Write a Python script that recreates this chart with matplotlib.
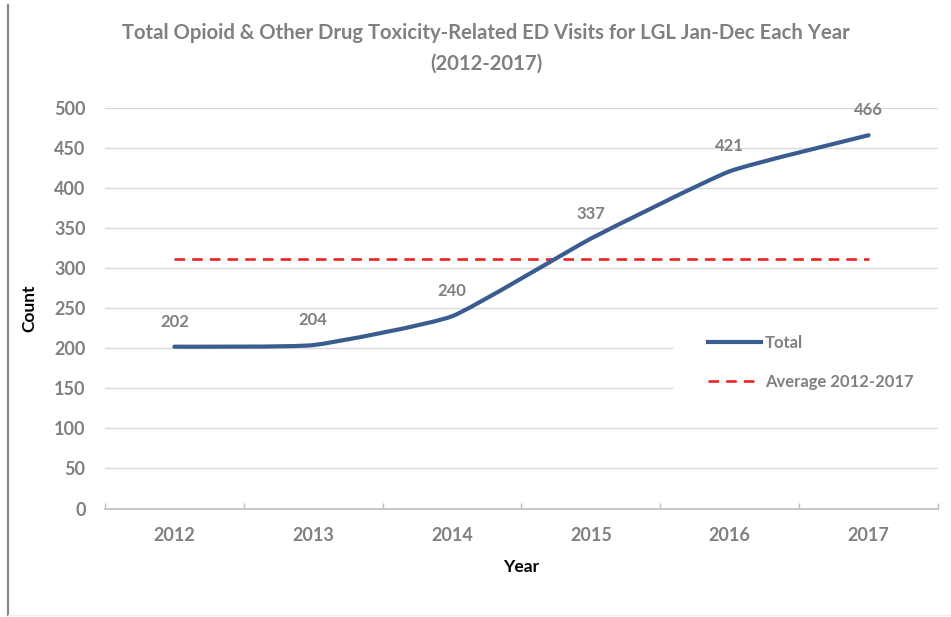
import matplotlib
matplotlib.use("Agg")
import matplotlib.pyplot as plt
from matplotlib.path import Path
from matplotlib.patches import PathPatch, Rectangle
from matplotlib.lines import Line2D
import numpy as np

years = ["2012", "2013", "2014", "2015", "2016", "2017"]
totals = [202, 204, 240, 337, 421, 466]
average = [311.67, 311.67, 311.67, 311.67, 311.67, 311.67]
yticks = [0, 50, 100, 150, 200, 250, 300, 350, 400, 450, 500]
title = "Total Opioid & Other Drug Toxicity-Related ED Visits for LGL Jan-Dec Each Year\n(2012-2017)"

plt.rcParams['font.family'] = ['Lato', 'DejaVu Sans']

W, H = 951, 617
fig = plt.figure(figsize=(W / 100, H / 100), dpi=100)
L, R, B, T = 105, 938, 508.5, 108
ax = fig.add_axes([L / W, 1 - B / H, (R - L) / W, (B - T) / H])

x = np.arange(len(years))
gray = "#808080"
blue = "#3a5d8f"
red = "#ee2222"

# lightly smoothed line
pts = np.column_stack([x, totals]).astype(float)
verts = [tuple(pts[0])]
codes = [Path.MOVETO]
n = len(pts)
k = 1.0 / 14.0
for i in range(n - 1):
    p0 = pts[i - 1] if i > 0 else pts[i]
    p1 = pts[i]
    p2 = pts[i + 1]
    p3 = pts[i + 2] if i + 2 < n else pts[i + 1]
    c1 = p1 + (p2 - p0) * k
    c2 = p2 - (p3 - p1) * k
    verts += [tuple(c1), tuple(c2), tuple(p2)]
    codes += [Path.CURVE4, Path.CURVE4, Path.CURVE4]
patch = PathPatch(Path(verts, codes), facecolor="none", edgecolor=blue, lw=3.0,
                  capstyle="round", joinstyle="round", zorder=4)
ax.add_patch(patch)
ax.plot([], [], color=blue, lw=3.0, label="Total")

ax.plot(x, average, color=red, lw=1.9, dashes=(4, 2.7), label="Average 2012-2017", zorder=3)

for xi, v in zip(x, totals):
    ax.annotate(str(v), (xi, v), xytext=(0, 18), textcoords="offset points",
                ha="center", va="center", fontsize=12, color=gray, fontweight="bold")

ax.set_xlim(-0.5, len(years) - 0.5)
ax.set_ylim(0, 500)
ax.set_yticks(yticks)
ax.set_xticks(x)
ax.set_xticklabels(years)
ax.set_xticks(np.arange(-0.5, len(years)), minor=True)
ax.grid(axis="y", which="major", color="#d9d9d9", lw=1.0, zorder=0)
ax.set_axisbelow(True)
for s in ["top", "right", "left"]:
    ax.spines[s].set_visible(False)
ax.spines["bottom"].set_color("#bfbfbf")
ax.spines["bottom"].set_linewidth(1.2)
ax.tick_params(axis="y", length=0, pad=14, labelsize=13, labelcolor=gray)
ax.tick_params(axis="x", which="major", length=0, pad=13, labelsize=13, labelcolor=gray)
ax.tick_params(axis="x", which="minor", bottom=True, length=4, direction="in",
               color="#bfbfbf", width=1.0)
for lbl in ax.get_xticklabels() + ax.get_yticklabels():
    lbl.set_fontweight("bold")

ax.set_ylabel("Count", fontsize=12.5, fontweight="bold", color="black", labelpad=12)
ax.set_xlabel("Year", fontsize=12.5, fontweight="bold", color="black", labelpad=11)

# white box behind legend covering gridlines
ax.add_patch(Rectangle(((673 - L) / (R - L), (B - 405) / (B - T)),
                       (R - 673) / (R - L), (405 - 318) / (B - T),
                       transform=ax.transAxes, facecolor="white", edgecolor="none", zorder=1))
leg = ax.legend(loc="upper left", bbox_to_anchor=((701 - L) / (R - L), (B - 328) / (B - T)),
                frameon=False, fontsize=12, handlelength=3.2, handletextpad=0.25,
                labelspacing=1.4, borderaxespad=0)
for t in leg.get_texts():
    t.set_color(gray)
    t.set_fontweight("bold")

fig.text(486 / W, 1 - 48 / H, title, ha="center", va="center", fontsize=14.6,
         color=gray, fontweight="bold", linespacing=1.65)

fig.add_artist(Line2D([8 / W, 8 / W], [1 - 615 / H, 1 - 5 / H], color="#888888", lw=1.6))
fig.add_artist(Line2D([8 / W, 1], [1 - 615 / H, 1 - 615 / H], color="#eeeeee", lw=1.0))

fig.savefig("out.png", dpi=100)
